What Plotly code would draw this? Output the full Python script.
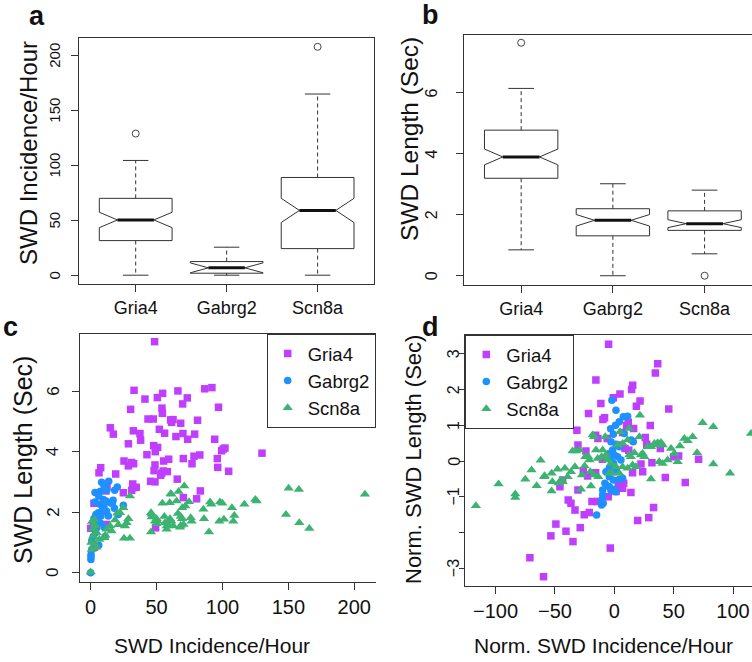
import plotly.graph_objects as go

# ---------------- data ----------------
groups = ["Gria4", "Gabrg2", "Scn8a"]
positions = [1, 2, 3]

# panel a: SWD incidence/hour box statistics
inc_lower = [0, 0, 0]
inc_q1 = [31.5, 1.8, 24.2]
inc_median = [50.3, 6.7, 59]
inc_q3 = [70, 12.4, 89]
inc_upper = [104.5, 25.5, 165]
inc_notch = [7, 4.5, 11]
inc_out_x = [1, 3]
inc_out_y = [129, 208]

# panel b: SWD length box statistics
len_lower = [0.85, 0, 0.72]
len_q1 = [3.2, 1.31, 1.49]
len_median = [3.9, 1.82, 1.71]
len_q3 = [4.78, 2.2, 2.13]
len_upper = [6.15, 3.02, 2.81]
len_notch = [0.26, 0.19, 0.13]
len_out_x = [1, 3]
len_out_y = [7.65, 0]

# tick values / labels
a_yticks = [0, 50, 100, 150, 200]
a_yticktext = ["0", "50", "100", "150", "200"]
b_yticks = [0, 2, 4, 6]
b_yticktext = ["0", "2", "4", "6"]
c_xticks = [0, 50, 100, 150, 200]
c_yticks = [0, 2, 4, 6]
c_yticktext = ["0", "2", "4", "6"]
d_xticks = [-100, -50, 0, 50, 100]
d_xticktext = ["\u2212100", "\u221250", "0", "50", "100"]
d_yticks = [-3, -2, -1, 0, 1, 2, 3]
d_yticktext = ["\u22123", "", "\u22121", "0", "1", "2", "3"]

# panel c: incidence vs length
c_gria4_x = [48.5, 32.9, 41.2, 54.6, 50.6, 66.2, 73.3, 69.8, 86.5, 92, 97, 30.3, 54.1, 54.4, 43.5, 47.5,
             60.7, 62.5, 61.4, 68.3, 81.1, 14.9, 17.2, 32.4, 37.4, 52.1, 56.1, 64.7, 70, 73.6, 78.9, 94.1,
             37.9, 28.6, 47.8, 50.8, 49, 100.6, 101.9, 99.4, 130, 42.7, 82.8, 78.4, 70.3, 96.1, 25.3, 32.6,
             28.6, 55.4, 59.2, 76.9, 48.8, 96.4, 48.1, 55.1, 58.2, 53.9, 53.1, 104.7, 7.6, 6.3, 19, 65.7,
             45.5, 48.8, 31.9, 32.4, 34.6, 31.1, 12.4, 11.6, 24.8, 83.2, 70.3, 80.4, 2.5, 9.6, 49.3, 0,
             2, 12, 4.5, 3, 31.1]
c_gria4_y = [7.65, 6.04, 5.75, 5.94, 5.80, 6.02, 5.79, 5.59, 6.09, 6.13, 5.48, 5.41, 5.45, 5.28, 5.09, 5.09,
             5.06, 5.07, 4.98, 4.95, 5.05, 4.80, 4.59, 4.70, 4.61, 4.75, 4.62, 4.51, 4.61, 4.42, 4.59, 4.42,
             4.39, 4.27, 4.21, 4.15, 4.01, 4.10, 4.13, 4.04, 3.96, 3.91, 3.90, 3.86, 3.78, 3.78, 3.70, 3.61,
             3.54, 3.70, 3.76, 3.61, 3.57, 3.49, 3.38, 3.37, 3.35, 3.30, 3.23, 3.36, 3.48, 3.31, 3.27, 3.10,
             3.03, 3.01, 2.94, 2.82, 2.83, 2.73, 2.85, 2.71, 2.65, 2.71, 2.49, 2.45, 2.30, 2.04, 1.49, 1.47,
             1.60, 1.60, 1.69, 0.85, 3.65]
c_gabrg2_x = [8.3, 13.7, 10.1, 12.1, 18.2, 20.2, 3.3, 7.1, 6.1, 9.6, 11.6, 14.9, 16.4, 3.3, 7.1, 10.1,
              24.8, 18, 21, 5.8, 4, 7.8, 4.5, 12.1, 13.4, 7.1, 10.1, 4.6, 3.8, 6.1, 0.8, 0.8, 0.3, 0.2,
              0.2, 2.5, 17, 9, 2, 11, 0]
c_gabrg2_y = [3.0, 3.03, 2.87, 2.73, 2.73, 2.84, 2.66, 2.69, 2.54, 2.43, 2.38, 2.32, 2.29, 2.34, 2.27, 2.21,
              2.24, 2.14, 1.93, 1.99, 1.93, 1.88, 1.77, 2.04, 1.88, 1.66, 1.52, 1.49, 1.33, 0.91, 1.05, 0.77,
              0.61, 0.53, 0.44, 1.80, 2.40, 2.10, 1.20, 1.20, 0]
c_scn8a_x = [0, 29.8, 24.8, 22.3, 20.2, 28.6, 27.3, 26, 21, 14.7, 12.1, 15.9, 11.1, 10.4, 25.3, 29.8,
             6.6, 3, 0.8, 2.8, 3.3, 4.6, 2, 1.5, 45.8, 46.3, 45.8, 50, 50.6, 54.4, 60, 61.2,
             60.2, 61.2, 55.9, 57.6, 62.7, 65.2, 66.7, 71, 66.2, 68.3, 69.3, 68.3, 70.5, 69.5, 74.6, 76.6,
             75.9, 71.8, 85.5, 86, 89.8, 90.6, 91.5, 98.1, 99.9, 97.6, 101.1, 107.2, 109, 108.2, 116.6, 124.9,
             125.9, 150.2, 158, 148.2, 158.3, 165.9, 208.1, 0.5, 1, 4.5, 18.5, 3, 48.8, 50, 56.4, 58.9,
             67.8, 57.6, 46.3, 60.7]
c_scn8a_y = [0.03, 2.54, 2.15, 1.99, 1.97, 1.79, 1.66, 1.55, 1.59, 1.55, 1.44, 1.38, 1.24, 1.16, 1.14, 1.14,
             1.10, 0.97, 0.77, 1.77, 1.55, 1.33, 1.22, 1.44, 1.99, 1.85, 1.35, 1.79, 1.71, 2.30, 2.32, 2.60,
             1.79, 1.71, 1.86, 1.55, 1.55, 2.38, 2.69, 2.87, 1.96, 1.86, 1.79, 1.57, 1.60, 2.15, 2.35, 1.71,
             1.82, 2.21, 2.10, 1.79, 1.35, 2.34, 2.27, 2.34, 2.30, 1.71, 1.77, 2.15, 1.90, 1.71, 2.27, 2.43,
             2.38, 2.80, 2.76, 1.93, 1.66, 1.47, 2.60, 1.00, 1.70, 0.85, 1.75, 1.60, 1.71, 1.62, 1.66, 1.60,
             1.51, 1.44, 1.94, 2.62]

# panel d: normalised incidence vs normalised length
d_gria4_x = [-4.8, 36.6, 34.6, -15.5, 15.5, 14.6, 4.8, -0.8, 21.7, -11.3, 18.6, 45.9, -21.7, -8.2, -9.6, 11.8,
             10.4, 30.3, -31.5, 16.3, 7, -15.7, -13.8, 26.1, -6, -30.6, -23.9, 27.3, 38.8, 50, 54.2, 71,
             31.7, 22.5, -26.1, -22.5, -15.7, 15.4, 23.9, 43, 59.8, -43.5, -45.8, -30.6, 3.4, 7.9, 7, 14,
             -38.8, -36.5, -18.8, -14.3, -33.1, -25.3, -21.1, 33.1, 19.7, 29, -49.2, -28.7, -40.7, -53.4,
             -34.8, -3.4, -71.1, -59.6, 12.2, -5.1, 1.5, 9, -10, 3]
d_gria4_y = [3.26, 2.72, 2.46, 2.26, 2.12, 2.0, 1.87, 1.77, 1.68, 1.61, 1.53, 1.45, 1.33, 1.21, 1.16, 1.08,
             0.99, 0.99, 0.86, 0.91, 0.80, 0.72, 0.63, 0.66, 0.63, 0.45, 0.28, 0.47, 0.35, 0.12, 0.14, 0.05,
             -0.05, -0.08, -0.27, -0.42, -0.33, -0.33, -0.30, -0.46, -0.60, -0.53, -0.72, -0.81, -0.67, -0.62,
             -0.76, -0.88, -1.09, -1.18, -1.13, -1.13, -1.37, -1.50, -1.44, -1.30, -1.66, -1.58, -1.76, -1.86,
             -1.96, -2.09, -2.25, -2.43, -2.70, -3.23, 0.30, -1.0, -0.85, 0.35, 0.05, 0.45]
d_gabrg2_x = [-2, 1.4, 7.6, 11.2, -3.1, 1.1, -0.8, 4.2, 8.4, 14.3, 16, -2.8, 1.4, 4.2, -1.4, -4.2, 0, 2.8,
              -2.8, 5.6, -0.6, -4.2, -7, 1.4, -4.2, -0.8, 4.2, 7, -7.9, -4.2, 0, -9.8, -10.7, -10.7, -14.9,
              -5.6, -2.8, -9.8, 1.4, -9.3]
d_gabrg2_y = [1.70, 1.42, 1.24, 1.25, 0.90, 1.0, 0.75, 1.10, 0.77, 0.59, 0.54, 0.54, 0.47, 0.40, 0.31, 0.21,
              0.17, 0.12, 0.03, 0.03, -0.07, -0.20, -0.30, -0.25, -0.44, -0.53, -0.51, -0.48, -0.62, -0.72,
              -0.79, -0.95, -1.09, -1.23, -1.51, -0.70, -0.83, -0.81, -0.86, -1.18]
d_scn8a_x = [-116.6, -97.5, -83.4, -83.4, -75, -65.4, -69.7, -62.1, -58.7, -52.8, -52.8, -47.8, -46.9, -44.9,
             -41.6, -39.3, -36.5, -33.1, -27.2, -25, -20.2, -19.7, -35.1, -32.3, -29.5, -24.4, -18.3, -16.9,
             -15.4, -14, -9.8, -7.6, -7, -5.6, -2.8, -4.2, 4.2, 1.4, 7, 11.2, 2.8, 4.8, 7.0, 11.2, 12.6, 16.9,
             18.3, 21.1, 22.5, 23.9, 25.3, 28.1, 30.9, 33.7, 35.1, 36.5, 39.3, 40.7, 37.9, 40.7, 44.9, 47.8,
             50.6, 53.4, 55.3, 59, 61.8, 66, 69.7, 74.4, 83.4, 83.4, 97.5, 115.2, 21.6, 30.9, 15.4, 14, 12.6,
             -21, -16.9, -59, -52.2, -43.5, -28.1, -21.9, -10.7, -13.5, -2.2]
d_scn8a_y = [-1.25, -0.64, -0.92, -1.02, -0.51, -0.69, -0.25, 0.02, -0.41, -0.34, -0.84, -0.23, -0.61, -0.53,
             -0.20, -0.44, -0.30, -0.16, -0.39, -0.14, -0.30, -0.70, 0.28, 0.28, 0.31, 0.12, 0.73, 0.68,
             0.31, 0.07, 0.31, 0.68, 0.17, 0.03, -0.07, -0.34, -0.34, -0.16, -0.16, -0.20, 0.45, 0.82, 0.49,
             0.59, 0.17, 0.23, -0.16, 0.68, 0.17, 0.21, 0.12, 0.40, 0.40, 0.49, 0.45, 0.51, 0.52, 0.45, -0.02,
             -0.07, 0.03, 0.35, 0.21, -0.02, 0.42, 0.63, 0.57, 0.68, 0.23, 1.07, 0.96, -0.08, -0.34, 0.77,
             1.28, -0.50, -0.11, 0.12, 0.91, 0.03, -0.39, -0.44, -0.58, -0.58, -0.79, 0.12, 0.12, -0.44, -0.34]

# ---------------- styles ----------------
FONT = "Liberation Sans, Arial, Helvetica, sans-serif"
LINE = "#333333"
TEXT = "#111111"
COLORS = {"Gria4": "#BF3EFF", "Gabrg2": "#1E90FF", "Scn8a": "#3CB371"}
SYMBOLS = {"Gria4": "square", "Gabrg2": "circle", "Scn8a": "triangle-up"}
SIZES = {"Gria4": 7.5, "Gabrg2": 7.5, "Scn8a": 9}

fig = go.Figure()


def add_boxes(xa, ya, lower, q1, med, q3, upper, notch, out_x, out_y):
    fig.add_trace(go.Box(
        x=positions, q1=q1, median=med, q3=q3, lowerfence=q1, upperfence=q3,
        notched=True, notchspan=notch, notchwidth=0.25, width=0.8, whiskerwidth=0,
        fillcolor="white", line=dict(color=LINE, width=1), boxpoints=False,
        xaxis=xa, yaxis=ya, showlegend=False, hoverinfo="skip"))
    wx, wy, sx, sy, mx, my = [], [], [], [], [], []
    for p, lo, a, m, b, up in zip(positions, lower, q1, med, q3, upper):
        wx += [p, p, None, p, p, None]
        wy += [b, up, None, a, lo, None]
        sx += [p - 0.14, p + 0.14, None, p - 0.14, p + 0.14, None]
        sy += [up, up, None, lo, lo, None]
        mx += [p - 0.2, p + 0.2, None]
        my += [m, m, None]
    fig.add_trace(go.Scatter(x=wx, y=wy, mode="lines", line=dict(color=LINE, width=1, dash="4px,3px"),
                             xaxis=xa, yaxis=ya, showlegend=False, hoverinfo="skip"))
    fig.add_trace(go.Scatter(x=sx, y=sy, mode="lines", line=dict(color=LINE, width=1),
                             xaxis=xa, yaxis=ya, showlegend=False, hoverinfo="skip"))
    fig.add_trace(go.Scatter(x=mx, y=my, mode="lines", line=dict(color=TEXT, width=3),
                             xaxis=xa, yaxis=ya, showlegend=False, hoverinfo="skip"))
    fig.add_trace(go.Scatter(x=out_x, y=out_y, mode="markers",
                             marker=dict(symbol="circle-open", size=7, color="#444444", line=dict(width=1)),
                             xaxis=xa, yaxis=ya, showlegend=False, hoverinfo="skip"))


add_boxes("x", "y", inc_lower, inc_q1, inc_median, inc_q3, inc_upper, inc_notch, inc_out_x, inc_out_y)
add_boxes("x2", "y2", len_lower, len_q1, len_median, len_q3, len_upper, len_notch, len_out_x, len_out_y)

for name, xs, ys in [("Gria4", c_gria4_x, c_gria4_y), ("Gabrg2", c_gabrg2_x, c_gabrg2_y),
                     ("Scn8a", c_scn8a_x, c_scn8a_y)]:
    fig.add_trace(go.Scatter(x=xs, y=ys, mode="markers", name=name, legend="legend",
                             marker=dict(symbol=SYMBOLS[name], size=SIZES[name], color=COLORS[name]),
                             xaxis="x3", yaxis="y3"))
for name, xs, ys in [("Gria4", d_gria4_x, d_gria4_y), ("Gabrg2", d_gabrg2_x, d_gabrg2_y),
                     ("Scn8a", d_scn8a_x, d_scn8a_y)]:
    fig.add_trace(go.Scatter(x=xs, y=ys, mode="markers", name=name, legend="legend2",
                             marker=dict(symbol=SYMBOLS[name], size=SIZES[name], color=COLORS[name]),
                             xaxis="x4", yaxis="y4"))

W, H = 752, 662


def px_dom_x(a, b):
    return [a / W, min(b / W, 1.0)]


def px_dom_y(top, bottom):
    return [1 - bottom / H, 1 - top / H]


common = dict(showgrid=False, zeroline=False, showline=True, linecolor=LINE, linewidth=1,
              ticks="outside", tickcolor=LINE, tickwidth=1)

fig.update_layout(
    width=W, height=H, margin=dict(l=0, r=0, t=0, b=0),
    paper_bgcolor="white", plot_bgcolor="white",
    font=dict(family=FONT, color=TEXT),
    xaxis=dict(domain=px_dom_x(79.3, 374), range=[0.38, 3.62], tickvals=positions, ticktext=groups,
               mirror=True, anchor="y", tickfont=dict(size=18), ticklen=7, **common),
    yaxis=dict(domain=px_dom_y(37.7, 284.3), range=[-8.3, 216.3], tickvals=a_yticks,
               showticklabels=False, mirror=True, anchor="x", ticklen=7, **common),
    xaxis2=dict(domain=px_dom_x(464.3, 752), range=[0.38, 3.517], tickvals=positions, ticktext=groups,
                mirror=True, anchor="y2", tickfont=dict(size=18), ticklen=7, **common),
    yaxis2=dict(domain=px_dom_y(35, 285), range=[-0.304, 7.904], tickvals=b_yticks,
                showticklabels=False, anchor="x2", ticklen=7, **common),
    xaxis3=dict(domain=px_dom_x(80, 376), range=[-8.1, 216.5], tickvals=c_xticks,
                mirror=True, anchor="y3", tickfont=dict(size=20), ticklen=7, **common),
    yaxis3=dict(domain=px_dom_y(334, 582), range=[-0.304, 7.904], tickvals=c_yticks,
                showticklabels=False, anchor="x3", ticklen=7, **common),
    xaxis4=dict(domain=px_dom_x(465.3, 752), range=[-125.5, 116.0], tickvals=d_xticks,
                ticktext=d_xticktext, mirror=True, anchor="y4", tickfont=dict(size=20), ticklen=7,
                **common),
    yaxis4=dict(domain=px_dom_y(335, 586), range=[-3.49, 3.52], tickvals=d_yticks,
                showticklabels=False, anchor="x4", ticklen=5, **common),
    legend=dict(x=266.7 / W, y=1 - 334 / H, xanchor="left", yanchor="top", bgcolor="white",
                bordercolor=LINE, borderwidth=1, font=dict(size=18.5, family=FONT)),
    legend2=dict(x=465.3 / W, y=1 - 335 / H, xanchor="left", yanchor="top", bgcolor="white",
                 bordercolor=LINE, borderwidth=1, font=dict(size=18.5, family=FONT)),
)

# rotated y tick labels (R style, parallel to the axis)
for yref, vals, texts, xc, size in [("y", a_yticks, a_yticktext, 54.2, 15),
                                     ("y2", b_yticks, b_yticktext, 431.5, 16),
                                     ("y3", c_yticks, c_yticktext, 53.3, 17),
                                     ("y4", d_yticks, d_yticktext, 453.7, 16)]:
    for v, t in zip(vals, texts):
        if t:
            fig.add_annotation(text=t, x=xc / W, xref="paper", y=v, yref=yref, textangle=-90,
                               xanchor="center", yanchor="middle", showarrow=False,
                               font=dict(size=size, family=FONT, color=TEXT))

annots = [
    ("a", 37, 16, 27, 0, True), ("b", 430, 15, 27, 0, True),
    ("c", 10, 327, 27, 0, True), ("d", 430, 327, 27, 0, True),
    ("SWD Incidence/Hour", 28, 153, 24, -90, False),
    ("SWD Length (Sec)", 410, 139, 24.5, -90, False),
    ("SWD Length (Sec)", 23, 460, 25, -90, False),
    ("SWD Incidence/Hour", 212, 645, 21, 0, False),
    ("Norm. SWD Length (Sec)", 413, 460, 22, -90, False),
    ("Norm. SWD Incidence/Hour", 603.5, 645, 21, 0, False),
]
for text, xp, yp, size, ang, bold in annots:
    fig.add_annotation(text=f"<b>{text}</b>" if bold else text, x=xp / W, y=1 - yp / H,
                       xref="paper", yref="paper", xanchor="center", yanchor="middle",
                       showarrow=False, textangle=ang, font=dict(size=size, family=FONT, color=TEXT))

fig.write_html("out.html", config={"displayModeBar": False},
               post_script="document.body.style.margin='0';document.body.style.overflow='hidden';")
